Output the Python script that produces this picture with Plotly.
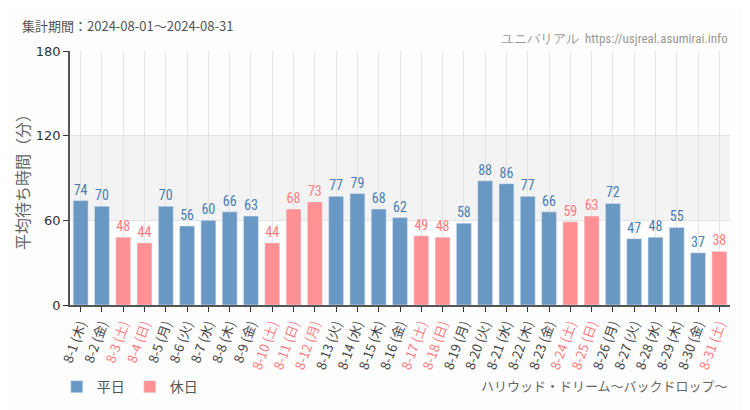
import plotly.graph_objects as go

dates = ["8-1","8-2","8-3","8-4","8-5","8-6","8-7","8-8","8-9","8-10","8-11","8-12","8-13","8-14","8-15","8-16",
         "8-17","8-18","8-19","8-20","8-21","8-22","8-23","8-24","8-25","8-26","8-27","8-28","8-29","8-30","8-31"]
weekdays = ["木","金","土","日","月","火","水","木","金","土","日","月","火","水","木","金",
            "土","日","月","火","水","木","金","土","日","月","火","水","木","金","土"]
waits = [74,70,48,44,70,56,60,66,63,44,68,73,77,79,68,62,49,48,58,88,86,77,66,59,63,72,47,48,55,37,38]
holiday = [0,0,1,1,0,0,0,0,0,1,1,1,0,0,0,0,1,1,0,0,0,0,0,1,1,0,0,0,0,0,1]

BLUE = "#6a98c4"
PINK = "#ff9195"
BLUE_T = "#4a7db3"
PINK_T = "#ff7b80"
NARROW = "Roboto Condensed, DejaVu Sans Condensed, Liberation Sans Narrow, Roboto"

cats = [f"{d} ({w})" for d, w in zip(dates, weekdays)]
ticktext = [f'<span style="color:{PINK_T}">{c}</span>' if h else f'<span style="color:#444">{c}</span>'
            for c, h in zip(cats, holiday)]

wk_y = [v if not h else None for v, h in zip(waits, holiday)]
hd_y = [v if h else None for v, h in zip(waits, holiday)]

fig = go.Figure()
fig.add_trace(go.Bar(x=cats, y=wk_y, name="平日", marker_color=BLUE,
                     text=[str(v) if v is not None else "" for v in wk_y], textposition="outside",
                     textfont=dict(color=BLUE_T, size=14, family=NARROW),
                     cliponaxis=False))
fig.add_trace(go.Bar(x=cats, y=hd_y, name="休日", marker_color=PINK,
                     text=[str(v) if v is not None else "" for v in hd_y], textposition="outside",
                     textfont=dict(color=PINK_T, size=14, family=NARROW),
                     cliponaxis=False))

fig.add_shape(type="rect", xref="paper", yref="y", x0=0, x1=1, y0=60, y1=120,
              fillcolor="#f2f3f2", line_width=0, layer="below")

fig.update_layout(
    width=750, height=410,
    margin=dict(l=62, r=28, t=43, b=113, autoexpand=False),
    paper_bgcolor="#fcfdfc", plot_bgcolor="#fcfdfc",
    barmode="overlay", bargap=0.3,
    font=dict(family="Noto Sans CJK JP", color="#444"),
    showlegend=True,
    legend=dict(orientation="h", x=-0.02, y=-0.323, xanchor="left", yanchor="middle",
                font=dict(size=14, color="#555"), bgcolor="rgba(0,0,0,0)",
                itemwidth=30, tracegroupgap=0),
    xaxis=dict(tickmode="array", tickvals=cats, ticktext=ticktext, tickangle=-70,
               tickfont=dict(size=13, family="Noto Sans CJK JP"), automargin=False,
               showgrid=True, gridcolor="#e4e4e4", showline=True, linecolor="#555", linewidth=1.5,
               ticks="outside", ticklen=5, tickcolor="#333"),
    yaxis=dict(range=[0, 180], tickvals=[0, 60, 120, 180], tickfont=dict(size=13, color="#333", family="DejaVu Sans"),
               showgrid=True, gridcolor="#e4e4e4", showline=True, linecolor="#555", linewidth=1.5,
               ticks="outside", ticklen=5, tickcolor="#333", zeroline=False, automargin=False,
               title=dict(text="平均待ち時間（分）", font=dict(size=16, color="#666"), standoff=2)),
    annotations=[
        dict(text="集計期間：2024-08-01～2024-08-31", xref="paper", yref="paper", x=-0.076, y=1.102,
             xanchor="left", yanchor="middle", showarrow=False, font=dict(size=13, color="#555")),
        dict(text="ユニバリアル  https://usjreal.asumirai.info", xref="paper", yref="paper", x=1.0, y=1.051,
             xanchor="right", yanchor="middle", showarrow=False,
             font=dict(size=13, color="#999", family=NARROW)),
        dict(text="ハリウッド・ドリーム～バックドロップ～", xref="paper", yref="paper", x=1.0, y=-0.315,
             xanchor="right", yanchor="middle", showarrow=False, font=dict(size=13, color="#666")),
    ],
)

fig.write_html("out.html")
